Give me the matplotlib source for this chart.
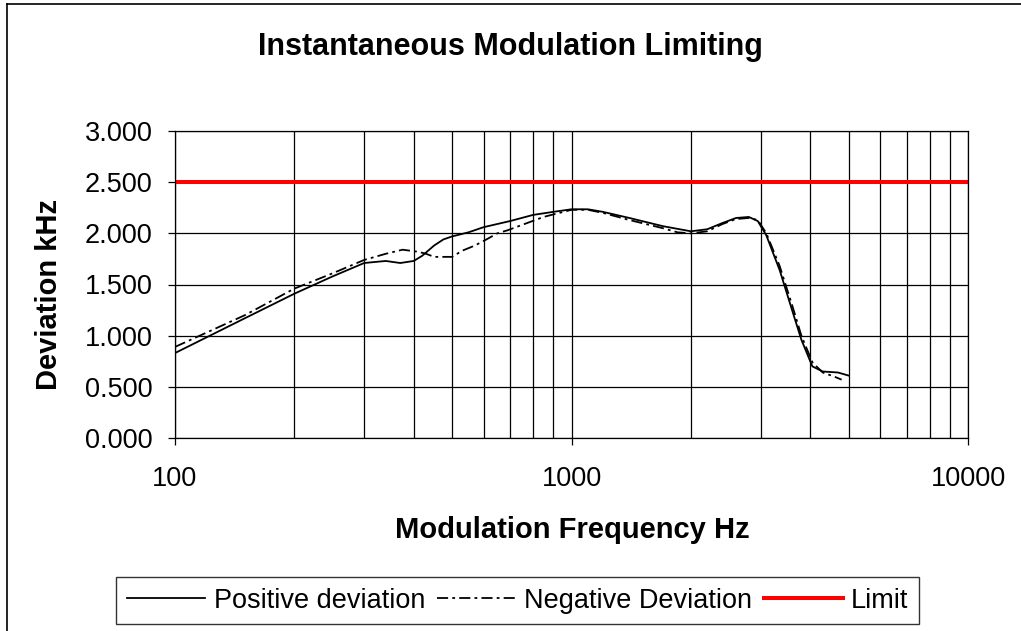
import matplotlib
matplotlib.use("Agg")
import matplotlib.pyplot as plt
from matplotlib.lines import Line2D
from matplotlib.ticker import FixedLocator, NullFormatter

plt.rcParams['font.family'] = ['Liberation Sans', 'DejaVu Sans']
plt.rcParams['lines.scale_dashes'] = False

# data
pos_freq = [100, 150, 200, 250, 300, 340, 370, 400, 420, 450, 475, 500, 550,
            600, 700, 800, 900, 1000, 1100, 1200, 1400, 1700, 2000, 2200,
            2400, 2600, 2800, 2950, 3100, 3350, 3600, 3800, 4050, 4300,
            4700, 5000]
pos_dev = [0.83, 1.17, 1.41, 1.58, 1.71, 1.73, 1.71, 1.73, 1.78, 1.88, 1.94,
           1.97, 2.01, 2.06, 2.12, 2.18, 2.21, 2.235, 2.235, 2.21, 2.15,
           2.07, 2.02, 2.04, 2.10, 2.15, 2.16, 2.12, 1.98, 1.64, 1.25, 0.96,
           0.70, 0.65, 0.64, 0.61]

neg_freq = [100, 150, 200, 250, 300, 340, 375, 410, 430, 450, 500, 530, 570,
            610, 650, 690, 850, 1000, 1100, 1200, 1400, 1700, 1850, 2000,
            2200, 2400, 2600, 2800, 2950, 3100, 3350, 3600, 3800, 4050,
            4300, 4600, 4800]
neg_dev = [0.89, 1.20, 1.46, 1.61, 1.74, 1.80, 1.84, 1.82, 1.80, 1.77, 1.77,
           1.83, 1.88, 1.94, 2.00, 2.03, 2.16, 2.23, 2.23, 2.20, 2.13, 2.05,
           2.01, 2.00, 2.02, 2.09, 2.14, 2.15, 2.13, 2.00, 1.68, 1.30, 1.00,
           0.74, 0.64, 0.60, 0.57]

limit_freq = [100, 10000]
limit_dev = [2.5, 2.5]

y_ticks = [0.0, 0.5, 1.0, 1.5, 2.0, 2.5, 3.0]
x_ticks = [100, 1000, 10000]
x_minor = [200, 300, 400, 500, 600, 700, 800, 900,
           2000, 3000, 4000, 5000, 6000, 7000, 8000, 9000]

W, H = 1021, 631
fig = plt.figure(figsize=(W / 100, H / 100), dpi=100)
ax = fig.add_axes([175 / W, 1 - 438 / H, (968 - 175) / W, (438 - 131) / H])

ax.plot(pos_freq, pos_dev, color='black', lw=1.3, label='Positive deviation')
ax.plot(neg_freq, neg_dev, color='black', lw=1.3,
        linestyle=(0, (8, 3, 2, 3)), label='Negative Deviation')
ax.plot(limit_freq, limit_dev, color='#ff0000', lw=2.9, label='Limit')

ax.set_xscale('log')
ax.set_xlim(100, 10000)
ax.set_ylim(0, 3)
ax.xaxis.set_major_locator(FixedLocator(x_ticks))
ax.xaxis.set_minor_locator(FixedLocator(x_minor))
ax.xaxis.set_minor_formatter(NullFormatter())
ax.set_xticklabels([str(v) for v in x_ticks])
ax.set_yticks(y_ticks)
ax.set_yticklabels(['%.3f' % v for v in y_ticks])

ax.grid(True, which='both', color='black', lw=0.9)
ax.set_axisbelow(True)
for s in ax.spines.values():
    s.set_color('black')
    s.set_linewidth(0.9)
ax.tick_params(axis='both', which='major', direction='out', length=5,
               width=0.9, labelsize=19.5, color='black')
ax.tick_params(axis='x', which='major', pad=15)
ax.tick_params(axis='y', which='major', pad=11)
ax.tick_params(axis='x', which='minor', length=0)

fig.text(510 / W, 1 - 47 / H, 'Instantaneous Modulation Limiting',
         ha='center', va='center', fontsize=22, fontweight='bold')
fig.text(572 / W, 1 - 530 / H, 'Modulation Frequency Hz',
         ha='center', va='center', fontsize=21, fontweight='bold')
fig.text(49 / W, 1 - 295 / H, 'Deviation kHz', rotation=90,
         ha='center', va='center', fontsize=21, fontweight='bold')

leg = fig.legend(loc='center', bbox_to_anchor=((114 + 921) / 2 / W, 1 - 600.5 / H),
                 ncol=3, fontsize=19.5, frameon=True, fancybox=False,
                 handlelength=2.9, handletextpad=0.3, columnspacing=0.45,
                 borderpad=0.4)
leg.get_frame().set_edgecolor('black')
leg.get_frame().set_linewidth(1.0)

# outer chart border (left and top edges visible)
fig.add_artist(Line2D([6.5 / W, 6.5 / W], [0, 1 - 3.5 / H], color='black',
                      lw=1.2, transform=fig.transFigure))
fig.add_artist(Line2D([6.5 / W, 1], [1 - 3.5 / H, 1 - 3.5 / H], color='black',
                      lw=1.2, transform=fig.transFigure))

fig.savefig('out.png', dpi=100)
